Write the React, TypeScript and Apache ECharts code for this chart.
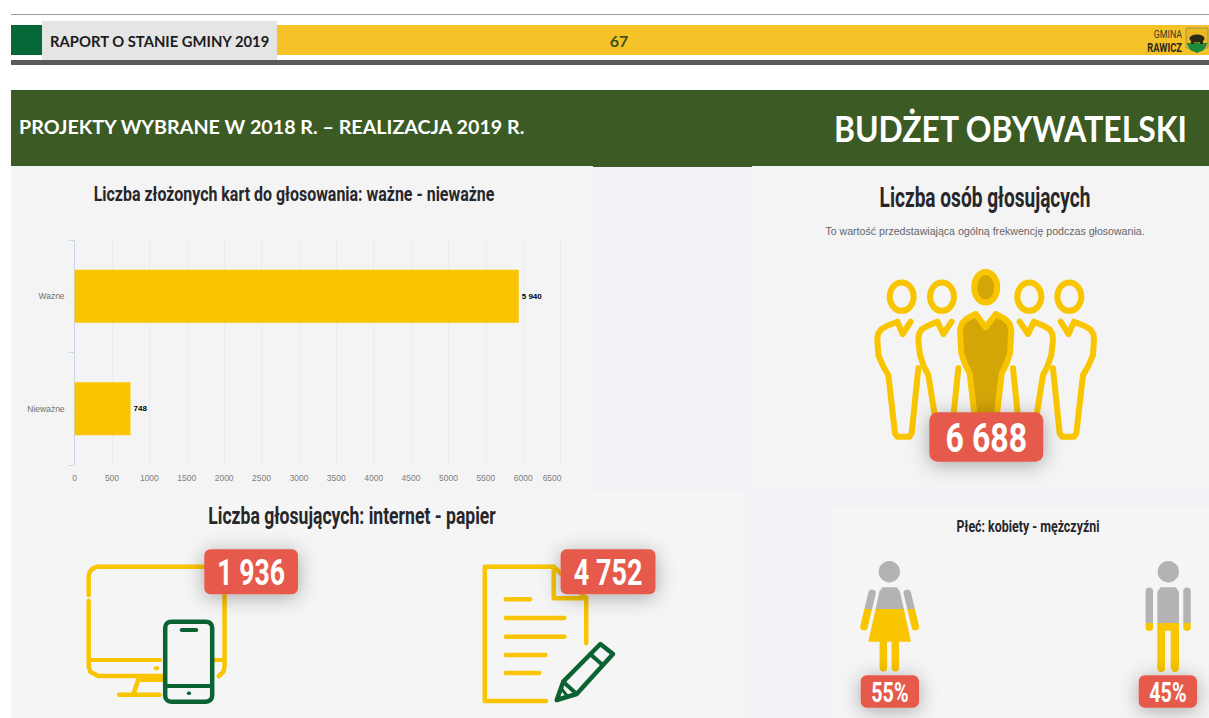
import React, { useEffect, useRef } from "react";
import * as echarts from "echarts";

const categories = ["Ważne", "Nieważne"];
const cardValues = [5940, 748];
const cardLabels = ["5 940", "748"];
const pageTitle = "RAPORT O STANIE GMINY 2019";
const pageNumber = "67";
const sectionLeft = "PROJEKTY WYBRANE W 2018 R. – REALIZACJA 2019 R.";
const sectionRight = "BUDŻET OBYWATELSKI";
const totalVoters = "6 688";
const internetVoters = "1 936";
const paperVoters = "4 752";
const womenShare = "55%";
const menShare = "45%";

const YELLOW = "#f9c500";
const GOLD = "#d4a507";
const GREEN = "#0b6232";
const RED = "#e55a4b";
const GRAY = "#b3b3b3";
const NARROW = "Roboto,sans-serif";
const HEAD = "Lato,'Open Sans',sans-serif";

type P = [number, number];
const map = (pts: P[], ox: number, oy: number, sx: number, sy: number) =>
  pts.map(([a, b]) => [ox + a / sx, oy + b / sy]);

const line = (points: number[][], stroke: string, lineWidth: number, z = 2, smooth = 0) => ({
  type: "polyline",
  z,
  shape: { points, smooth },
  style: { stroke, lineWidth, fill: "none", lineCap: "round", lineJoin: "round" },
});
const rect = (x: number, y: number, width: number, height: number, fill: string, z = 0, r = 0, extra: any = {}) => ({
  type: "rect",
  z,
  shape: { x, y, width, height, r },
  style: { fill, ...extra },
});
const text = (x: number, y: number, t: string, font: string, fill: string, align = "center", z = 6, scaleX = 1) => ({
  type: "text",
  z,
  x,
  y,
  scaleX,
  style: { text: t, font, fill, align, verticalAlign: "middle" },
});
const badge = (x: number, y: number, w: number, h: number, r: number, t: string, size: number, sx: number) => [
  rect(x, y, w, h, RED, 5, r, { shadowBlur: 20, shadowColor: "rgba(0,0,0,0.32)", shadowOffsetY: 3 }),
  text(x + w / 2, y + h / 2 + 1, t, `bold ${size}px ${NARROW}`, "#ffffff", "center", 6, sx),
];

// People icon (coordinates in a 3x crop space)
const P3 = (pts: P[]) => map(pts, 820, 170, 3, 3);
const mirror = (pts: P[]): P[] => pts.map(([a, b]) => [994 - a, b]);
const outerBody: P[] = [[272, 455], [248, 492], [232, 455], [200, 468], [183, 478], [174, 492], [172, 510], [175, 555], [190, 590], [205, 615], [225, 790], [232, 800], [268, 800], [275, 790], [295, 595]];
const innerBody: P[] = [[395, 455], [370, 492], [352, 455], [322, 468], [305, 478], [297, 492], [295, 510], [300, 555], [312, 590], [325, 615], [345, 740]];
const innerHand: P[] = [[415, 595], [400, 740]];
const leaderBody: P[] = [[467, 432], [497, 472], [527, 432], [555, 447], [568, 460], [574, 480], [570, 550], [560, 580], [545, 610], [530, 740], [464, 740], [449, 610], [434, 580], [424, 550], [420, 480], [426, 460], [439, 447]];
const heads: P[] = [[245, 380], [366, 380], [628, 380], [748, 380]];

const head = (zx: number, zy: number) => ({
  type: "ellipse",
  z: 2,
  shape: { cx: 820 + zx / 3, cy: 170 + zy / 3, rx: 12, ry: 14.2 },
  style: { fill: "none", stroke: YELLOW, lineWidth: 6 },
});

const peopleIcon = [
  ...heads.map(([a, b]) => head(a, b)),
  {
    ...head(497, 352),
    shape: { cx: 985.7, cy: 287.3, rx: 11.5, ry: 15.3 },
    style: { fill: GOLD, stroke: YELLOW, lineWidth: 6 },
  },
  line(P3(outerBody), YELLOW, 6),
  line(P3(innerBody), YELLOW, 6),
  line(P3(innerHand), YELLOW, 6),
  line(P3(mirror(outerBody)), YELLOW, 6),
  line(P3(mirror(innerBody)), YELLOW, 6),
  line(P3(mirror(innerHand)), YELLOW, 6),
  {
    type: "polygon",
    z: 2,
    shape: { points: P3(leaderBody) },
    style: { fill: GOLD, stroke: YELLOW, lineWidth: 6, lineJoin: "round" },
  },
];

// Monitor, phone, document and pen (coordinates in the 600x228 crop space)
const Z = (pts: P[]) => map(pts, 60, 490, 2.613, 3);
const deviceIcon = [
  line(Z([[75, 315], [75, 258], [78, 245], [85, 236], [98, 230], [385, 230]]), YELLOW, 4.5),
  line(Z([[430, 310], [430, 530], [427, 545], [415, 558]]), YELLOW, 4.5),
  line(Z([[75, 332], [75, 530], [79, 545], [100, 558], [275, 558]]), YELLOW, 4.5),
  line(Z([[80, 510], [262, 510]]), YELLOW, 4),
  line(Z([[400, 510], [430, 510]]), YELLOW, 4),
  line(Z([[250, 535], [254, 535]]), YELLOW, 4),
  line(Z([[205, 568], [192, 612]]), YELLOW, 4.5),
  line(Z([[155, 614], [260, 614]]), YELLOW, 4.5),
  rect(137, 677, 29, 5, YELLOW, 2),
  rect(165.2, 621.7, 47, 80, "#f5f5f5", 3, 6, { stroke: GREEN, lineWidth: 4.5 }),
  line(Z([[277, 588], [396, 588]]), GREEN, 4, 4),
  line(Z([[318, 420], [356, 420]]), GREEN, 4, 4),
  line(Z([[336, 610], [338, 610]]), GREEN, 3.5, 4),
];
const paperIcon = [
  line(Z([[1270, 633], [1110, 633], [1110, 230], [1290, 230], [1375, 325], [1375, 460]]), YELLOW, 4.5),
  line(Z([[1290, 230], [1290, 325], [1375, 325]]), YELLOW, 4.5),
  ...[[328, 1228], [384, 1318], [440, 1318], [495, 1268], [549, 1252]].map(([y, x2]) =>
    line(Z([[1165, y], [x2, y]]), YELLOW, 4.5),
  ),
  {
    type: "polygon",
    z: 4,
    shape: { points: Z([[1298, 630], [1315, 575], [1412, 462], [1445, 492], [1350, 612]]) },
    style: { fill: "#f5f5f5", stroke: GREEN, lineWidth: 4.5, lineJoin: "round" },
  },
  line(Z([[1315, 575], [1350, 612]]), GREEN, 4, 5),
  line(Z([[1385, 492], [1418, 525]]), GREEN, 4, 5),
  line(Z([[1298, 630], [1310, 595], [1325, 618]]), GREEN, 3, 5),
];

// Gender figures: a hard-stop global gradient splits grey from yellow
const split = (y: number) => ({
  type: "linear",
  global: true,
  x: 0,
  y: 540,
  x2: 0,
  y2: 700,
  colorStops: [
    { offset: 0, color: GRAY },
    { offset: (y - 540) / 160, color: GRAY },
    { offset: (y - 540) / 160, color: YELLOW },
    { offset: 1, color: YELLOW },
  ],
});
const Q = (pts: P[]) => map(pts, 830, 500, 3, 3);
const womanFill = split(609);
const manFill = split(622.7);
const bar = (pts: P[], color: any, w: number) => ({
  type: "polyline",
  z: 2,
  shape: { points: Q(pts) },
  style: { stroke: color, lineWidth: w, lineCap: "round", fill: "none" },
});
const womanIcon = [
  { type: "circle", z: 2, shape: { cx: 889.3, cy: 571.7, r: 10.7 }, style: { fill: GRAY } },
  {
    type: "polygon",
    z: 2,
    shape: { points: Q([[157, 262], [200, 262], [210, 275], [243, 425], [115, 425], [148, 275]]) },
    style: { fill: womanFill },
  },
  bar([[126, 280], [102, 380]], womanFill, 7.5),
  bar([[232, 280], [256, 380]], womanFill, 7.5),
  bar([[160, 420], [160, 503]], womanFill, 7.5),
  bar([[196, 420], [196, 503]], womanFill, 7.5),
];
const manIcon = [
  { type: "circle", z: 2, shape: { cx: 1168.3, cy: 571.7, r: 10.7 }, style: { fill: GRAY } },
  {
    type: "polygon",
    z: 2,
    shape: { points: Q([[992, 262], [1037, 262], [1047, 275], [1047, 505], [1022, 505], [1022, 392], [1005, 392], [1005, 505], [982, 505], [982, 275]]) },
    style: { fill: manFill },
  },
  bar([[993, 500], [994, 505]], manFill, 7.5),
  bar([[1034, 500], [1035, 505]], manFill, 7.5),
  bar([[958, 274], [958, 382]], manFill, 7.5),
  bar([[1071, 274], [1071, 382]], manFill, 7.5),
];

// Logo
const logo = [
  text(1182, 34, "GMINA", `11px ${NARROW}`, "#3a3a2a", "right", 6, 0.8),
  text(1182, 47, "RAWICZ", `bold 13px ${NARROW}`, "#2a2a1a", "right", 6, 0.72),
  rect(1186, 28, 22, 20, "#eab91f", 2, 1, { stroke: "#8a8a60", lineWidth: 0.8 }),
  {
    type: "polygon",
    z: 3,
    shape: { points: [[1186.5, 43], [1207.5, 43], [1204, 50], [1197, 53], [1190, 50]] },
    style: { fill: "#1f8a3a" },
  },
  { type: "ellipse", z: 4, shape: { cx: 1197, cy: 38.5, rx: 7.5, ry: 4 }, style: { fill: "#2a2a1a" } },
  rect(1191, 40, 3, 4, "#2a2a1a", 4),
  rect(1200, 40, 3, 4, "#2a2a1a", 4),
];

const chrome = [
  rect(0, 0, 1209, 718, "#ffffff", -2),
  rect(11, 14, 1198, 1, "#9c9c9c"),
  rect(11, 25, 31, 30, "#066838"),
  rect(277, 25, 932, 30, "#f5c228"),
  rect(11, 60, 1198, 5, "#5a5a5a"),
  rect(42, 21, 235, 39, "#e5e5e5", 1),
  rect(11, 90, 1198, 76, "#3b5a24"),
  rect(593, 166, 159, 1, "#3b5a24"),
  rect(11, 166, 1198, 552, "#f1f1f6", -1),
  rect(11, 166, 582, 324, "#f4f4f4"),
  rect(752, 166, 457, 324, "#f4f4f4"),
  rect(11, 490, 732, 228, "#f5f5f5"),
  rect(831, 507, 378, 211, "#f5f5f5"),
  text(50, 41, pageTitle, `bold 14.8px ${HEAD}`, "#1c1c1c", "left"),
  text(619, 40, pageNumber, `bold 16px ${HEAD}`, "#41511f"),
  text(19, 126, sectionLeft, `bold 19.7px ${HEAD}`, "#ffffff", "left"),
  text(834, 128, sectionRight, `bold 36px ${HEAD}`, "#ffffff", "left", 6, 0.885),
  text(294, 194, "Liczba złożonych kart do głosowania: ważne - nieważne", `bold 21px ${NARROW}`, "#26262b", "center", 6, 0.76),
  text(985, 198, "Liczba osób głosujących", `bold 27px ${NARROW}`, "#26262b", "center", 6, 0.707),
  text(985, 231, "To wartość przedstawiająca ogólną frekwencję podczas głosowania.", "10.6px 'Liberation Sans',sans-serif", "#666666"),
  text(352, 515, "Liczba głosujących: internet - papier", `bold 24px ${NARROW}`, "#26262b", "center", 6, 0.733),
  text(1028, 526, "Płeć: kobiety - mężczyźni", `bold 17px ${NARROW}`, "#26262b", "center", 6, 0.73),
];

const graphics = [
  ...chrome,
  ...logo,
  ...peopleIcon,
  ...deviceIcon,
  ...paperIcon,
  ...womanIcon,
  ...manIcon,
  ...badge(929.3, 412.3, 114, 49.4, 8, totalVoters, 40, 0.8),
  ...badge(204.3, 549.3, 93.7, 45, 6, internetVoters, 37, 0.72),
  ...badge(560.6, 549.3, 94.9, 45, 6, paperVoters, 37, 0.73),
  ...badge(860.7, 675.3, 58.3, 32.4, 6, womenShare, 27, 0.73),
  ...badge(1138.7, 675.3, 58.3, 32.4, 6, menShare, 27, 0.73),
];

export default function App() {
  const ref = useRef<HTMLDivElement>(null);
  useEffect(() => {
    document.body.style.margin = "0";
    const chart = echarts.init(ref.current!, null, { renderer: "svg" });
    chart.setOption({
      animation: false,
      backgroundColor: "transparent",
      graphic: { elements: graphics.map((g: any) => ({ ...g, silent: true, z: g.z ?? 0, zlevel: g.z < 2 ? -1 : 0 })) },
      grid: { left: 74.6, top: 240, width: 486, height: 225, containLabel: false, z: 3 },
      xAxis: {
        type: "value",
        min: 0,
        max: 6500,
        interval: 500,
        axisLine: { show: false },
        axisTick: { show: false },
        splitLine: { show: true, lineStyle: { color: "#ebebed", width: 1 } },
        axisLabel: {
          color: "#808080",
          fontSize: 8.5,
          fontFamily: "'Liberation Sans',sans-serif",
          margin: 8,
          hideOverlap: false,
          showMinLabel: true,
          showMaxLabel: true,
          formatter: (v: number) => (v === 6500 ? `{last|${v}}` : `${v}`),
          rich: { last: { padding: [0, 17, 0, 0], color: "#808080", fontSize: 8.5 } },
        },
      },
      yAxis: {
        type: "category",
        inverse: true,
        data: categories,
        axisLine: { show: true, lineStyle: { color: "#ccd6eb", width: 1 } },
        axisTick: { show: true, length: 6, lineStyle: { color: "#ccd6eb" } },
        axisLabel: { color: "#707070", fontSize: 8.5, fontFamily: "'Liberation Sans',sans-serif", margin: 10 },
      },
      series: [
        {
          type: "bar",
          data: cardValues,
          barWidth: 53,
          itemStyle: { color: YELLOW },
          z: 4,
          label: {
            show: true,
            position: "right",
            distance: 3,
            color: "#000000",
            fontSize: 8,
            fontWeight: "bold",
            fontFamily: "'Liberation Sans',sans-serif",
            formatter: (p: any) => cardLabels[p.dataIndex],
          },
        },
      ],
    });
    return () => chart.dispose();
  }, []);
  return <div ref={ref} style={{ width: 1209, height: 718 }} />;
}
